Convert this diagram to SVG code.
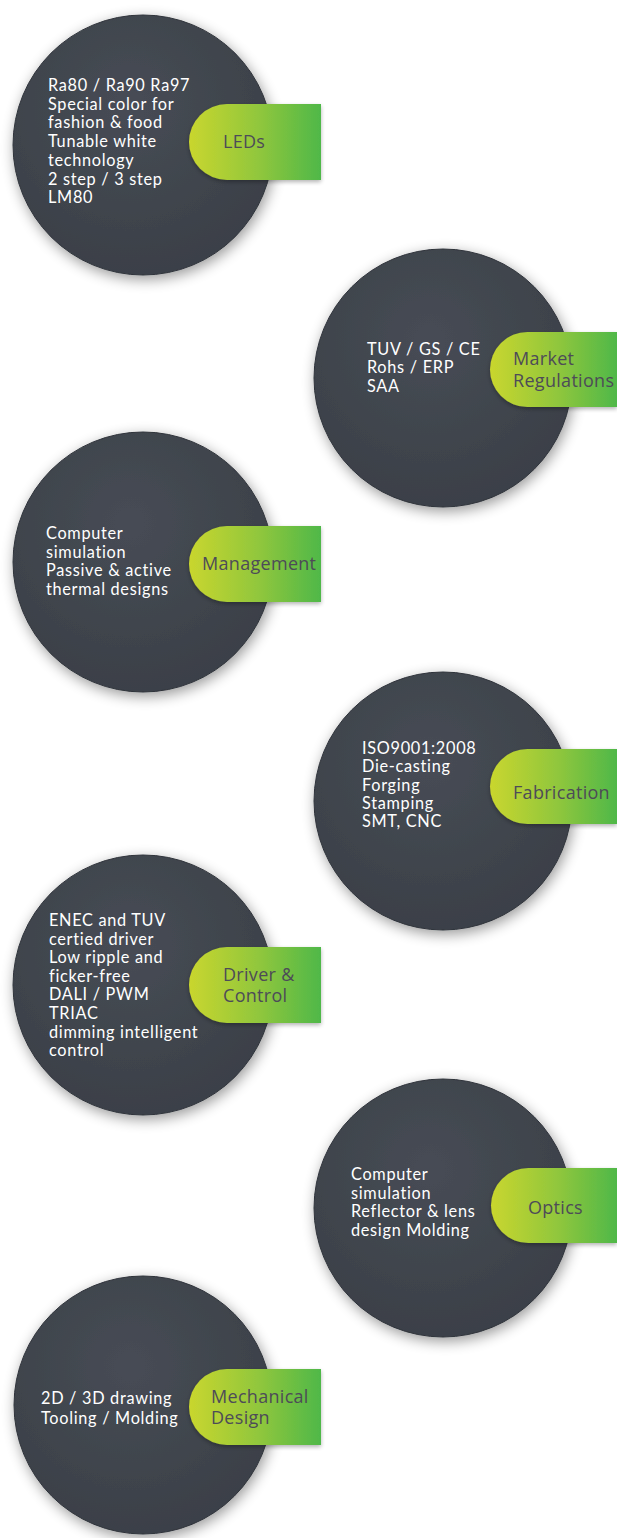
<svg xmlns="http://www.w3.org/2000/svg" width="617" height="1538" viewBox="0 0 617 1538">
<defs>
<radialGradient id="disc" cx="0.45" cy="0.35" r="0.7">
<stop offset="0" stop-color="#474c55"/>
<stop offset="1" stop-color="#3a3f47"/>
</radialGradient>
<linearGradient id="tab" x1="0" y1="0" x2="1" y2="0">
<stop offset="0" stop-color="#c9d62e"/>
<stop offset="0.55" stop-color="#8ec63d"/>
<stop offset="1" stop-color="#4fb848"/>
</linearGradient>
<filter id="shadow" x="-20%" y="-20%" width="140%" height="140%">
<feGaussianBlur in="SourceAlpha" stdDeviation="7"/>
<feOffset dx="2" dy="4" result="b"/>
<feComponentTransfer><feFuncA type="linear" slope="0.4"/></feComponentTransfer>
<feMerge><feMergeNode/><feMergeNode in="SourceGraphic"/></feMerge>
</filter>
<filter id="tabshadow" x="-10%" y="-20%" width="120%" height="150%">
<feGaussianBlur in="SourceAlpha" stdDeviation="2"/>
<feOffset dx="0" dy="2" result="b"/>
<feComponentTransfer><feFuncA type="linear" slope="0.3"/></feComponentTransfer>
<feMerge><feMergeNode/><feMergeNode in="SourceGraphic"/></feMerge>
</filter>
</defs>
<style>
.disc{fill:url(#disc);stroke:#30343b;stroke-width:1;filter:url(#shadow)}
.tab{fill:url(#tab);filter:url(#tabshadow)}
.body{font-family:Lato,"Open Sans",sans-serif;font-size:16.3px;letter-spacing:0.7px;fill:#ffffff}
.label{font-family:"Open Sans","Noto Sans",sans-serif;font-size:18px;letter-spacing:0.3px;fill:#4d4b58}
</style>
<rect width="617" height="1538" fill="#ffffff"/>
<g id="connectors"/>
<g id="leds">
<circle class="disc" cx="143" cy="145" r="130"/>
<path class="tab" d="M321 104 H227 A38 38 0 0 0 227 180 H321 Z"/>
<text class="body" x="48" y="91"><tspan x="48">Ra80 / Ra90 Ra97</tspan><tspan x="48" dy="18.7">Special color for</tspan><tspan x="48" dy="18.7">fashion &amp; food</tspan><tspan x="48" dy="18.7">Tunable white</tspan><tspan x="48" dy="18.7">technology</tspan><tspan x="48" dy="18.7">2 step / 3 step</tspan><tspan x="48" dy="18.7">LM80</tspan></text>
<text class="label" x="223" y="148">LEDs</text>
</g>
<g id="market-regulations">
<circle class="disc" cx="443" cy="378" r="129"/>
<path class="tab" d="M617 332 H527.5 A37.5 37.5 0 0 0 527.5 407 H617 Z"/>
<text class="body" x="367" y="355"><tspan x="367">TUV / GS / CE</tspan><tspan x="367" dy="18.4">Rohs / ERP</tspan><tspan x="367" dy="18.4">SAA</tspan></text>
<text class="label" x="513" y="365"><tspan x="513">Market</tspan><tspan x="513" dy="21.5">Regulations</tspan></text>
</g>
<g id="management">
<circle class="disc" cx="143" cy="562" r="130"/>
<path class="tab" d="M321 526 H227 A38 38 0 0 0 227 602 H321 Z"/>
<text class="body" x="46" y="539.3"><tspan x="46">Computer</tspan><tspan x="46" dy="18.4">simulation</tspan><tspan x="46" dy="18.4">Passive &amp; active</tspan><tspan x="46" dy="18.4">thermal designs</tspan></text>
<text class="label" x="202" y="570">Management</text>
</g>
<g id="fabrication">
<circle class="disc" cx="443" cy="801" r="129"/>
<path class="tab" d="M617 749 H527.5 A37.5 37.5 0 0 0 527.5 824 H617 Z"/>
<text class="body" x="362" y="754"><tspan x="362">ISO9001:2008</tspan><tspan x="362" dy="18.3">Die-casting</tspan><tspan x="362" dy="18.3">Forging</tspan><tspan x="362" dy="18.3">Stamping</tspan><tspan x="362" dy="18.3">SMT, CNC</tspan></text>
<text class="label" x="513" y="799">Fabrication</text>
</g>
<g id="driver-control">
<circle class="disc" cx="143" cy="985" r="130"/>
<path class="tab" d="M321 947 H227 A38 38 0 0 0 227 1023 H321 Z"/>
<text class="body" x="49" y="926"><tspan x="49">ENEC and TUV</tspan><tspan x="49" dy="18.6">certied driver</tspan><tspan x="49" dy="18.6">Low ripple and</tspan><tspan x="49" dy="18.6">ficker-free</tspan><tspan x="49" dy="18.6">DALI / PWM</tspan><tspan x="49" dy="18.6">TRIAC</tspan><tspan x="49" dy="18.6">dimming intelligent</tspan><tspan x="49" dy="18.6">control</tspan></text>
<text class="label" x="223" y="981"><tspan x="223">Driver &amp;</tspan><tspan x="223" dy="21">Control</tspan></text>
</g>
<g id="optics">
<circle class="disc" cx="443" cy="1208" r="129"/>
<path class="tab" d="M617 1168 H528.5 A37.5 37.5 0 0 0 528.5 1243 H617 Z"/>
<text class="body" x="351" y="1180"><tspan x="351">Computer</tspan><tspan x="351" dy="18.5">simulation</tspan><tspan x="351" dy="18.5">Reflector &amp; lens</tspan><tspan x="351" dy="18.5">design Molding</tspan></text>
<text class="label" x="528" y="1214">Optics</text>
</g>
<g id="mechanical-design">
<circle class="disc" cx="143" cy="1405" r="129"/>
<path class="tab" d="M321 1369 H227 A38 38 0 0 0 227 1445 H321 Z"/>
<text class="body" x="41" y="1404.3"><tspan x="41">2D / 3D drawing</tspan><tspan x="41" dy="19.7">Tooling / Molding</tspan></text>
<text class="label" x="211" y="1403"><tspan x="211">Mechanical</tspan><tspan x="211" dy="21">Design</tspan></text>
</g>
</svg>
